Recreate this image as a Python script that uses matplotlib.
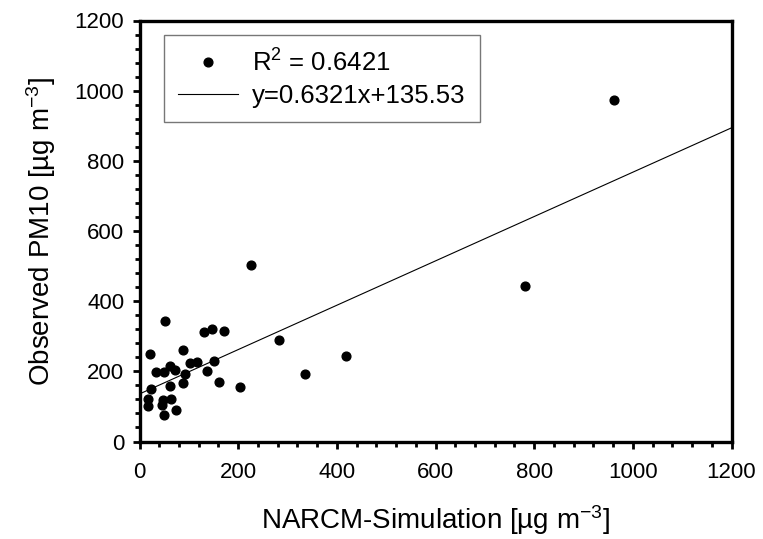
import matplotlib
matplotlib.use("Agg")
import matplotlib.pyplot as plt
import numpy as np

plt.rcParams["font.family"] = ["Liberation Sans", "DejaVu Sans"]
plt.rcParams["mathtext.default"] = "regular"

# simulated vs observed PM10
sim = [961, 781, 227, 419, 335, 282, 203, 172, 147, 130, 150, 136, 161,
       117, 102, 89, 93, 88, 71, 62, 52, 49, 34, 22, 23, 61, 64, 48, 46,
       18, 18, 49, 73]
obs = [973, 442, 503, 244, 193, 290, 156, 316, 322, 312, 230, 202, 170,
       228, 223, 260, 191, 168, 204, 214, 343, 198, 197, 249, 151, 157,
       120, 117, 103, 120, 101, 75, 89]

slope, intercept = 0.6321, 135.53
r2 = 0.6421
x_ticks = [0, 200, 400, 600, 800, 1000, 1200]
y_ticks = [0, 200, 400, 600, 800, 1000, 1200]

fig = plt.figure(figsize=(7.63, 5.39), dpi=100)
ax = fig.add_axes([139.5 / 763, 1 - 441.5 / 539, 592 / 763, 421 / 539])

ax.plot(sim, obs, "o", color="black", markersize=6.3, linestyle="none",
        label="R$^2$ = %.4f" % r2)
xl = np.array([0, 1200])
ax.plot(xl, slope * xl + intercept, color="black", linewidth=0.8,
        label="y=%.4fx+%.2f" % (slope, intercept))

ax.set_xlim(0, 1200)
ax.set_ylim(0, 1200)
ax.set_xticks(x_ticks)
ax.set_yticks(y_ticks)
ax.set_xticks(np.arange(0, 1201, 40), minor=True)
ax.set_yticks(np.arange(0, 1201, 40), minor=True)
ax.tick_params(which="major", direction="out", length=5, width=2,
               labelsize=16, pad=6)
ax.tick_params(which="minor", direction="out", length=3.5, width=2)
ax.tick_params(axis="x", pad=10)
for s in ax.spines.values():
    s.set_linewidth(2.4)

ax.set_xlabel("NARCM-Simulation [µg m$^{-3}$]", fontsize=20, labelpad=14)
ax.set_ylabel("Observed PM10 [µg m$^{-3}$]", fontsize=20, labelpad=12)

leg = ax.legend(loc="upper left", bbox_to_anchor=(0.0414, 0.9656),
                borderaxespad=0, fontsize=18.5, frameon=True, fancybox=False,
                edgecolor="#555555", handlelength=2.33, handletextpad=0.55,
                borderpad=0.55, labelspacing=0.3, numpoints=1)
leg.get_frame().set_linewidth(1.0)

fig.savefig("out.png", dpi=100)
